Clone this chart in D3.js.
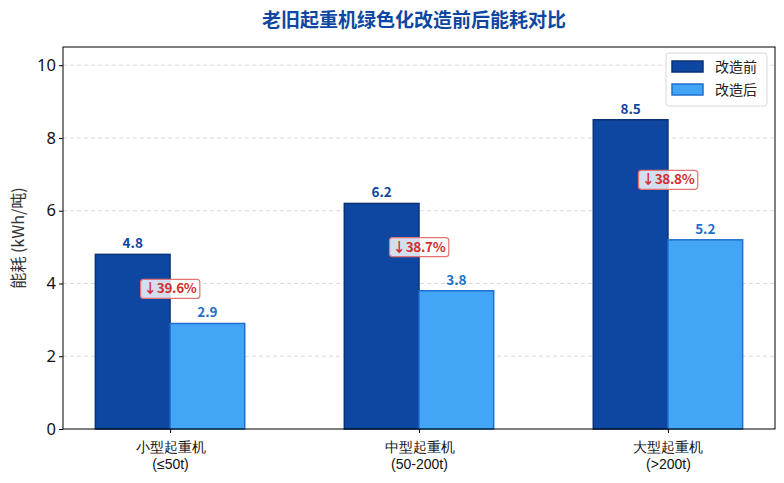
<!DOCTYPE html>
<html><head><meta charset="utf-8">
<script src="https://cdn.jsdelivr.net/npm/d3@7"></script>
<style>body{margin:0;background:#fff;} svg{display:block;font-family:"Noto Sans CJK SC","Noto Sans",sans-serif;}</style>
</head><body>
<svg id="c" width="784" height="483"></svg>
<script>
const categories = ["小型起重机\n(≤50t)", "中型起重机\n(50-200t)", "大型起重机\n(>200t)"];
const before = [4.8, 6.2, 8.5];
const after = [2.9, 3.8, 5.2];
const reductions = ["↓39.6%", "↓38.7%", "↓38.8%"];
const seriesNames = ["改造前", "改造后"];
const yTicks = [0, 2, 4, 6, 8, 10];

const svg = d3.select("#c");
const L = 63, R = 775, T = 47, B = 429;
const x = d3.scaleLinear().domain([-0.43, 2.43]).range([L, R]);
const y = d3.scaleLinear().domain([0, 10.5]).range([B, T]);
const bw = 0.3;
const colors = ["#0d47a1", "#42a5f5"], edges = ["#0a3275", "#1e6fd0"], labCol = ["#0d47a1", "#1e6fc5"];

// grid
svg.append("g").selectAll("line").data(yTicks.filter(d => d > 0)).join("line")
  .attr("x1", L).attr("x2", R).attr("y1", d => y(d)).attr("y2", d => y(d))
  .attr("stroke", "#cfcfcf").attr("stroke-dasharray", "4,3").attr("stroke-width", 0.8);

// bars
[before, after].forEach((vals, s) => {
  const off = s === 0 ? -bw / 2 : bw / 2;
  svg.append("g").selectAll("rect").data(vals).join("rect")
    .attr("x", (d, i) => x(i + off - bw / 2)).attr("width", x(bw) - x(0))
    .attr("y", d => y(d)).attr("height", d => B - y(d))
    .attr("fill", colors[s]).attr("stroke", edges[s]).attr("stroke-width", 1.5);
  svg.append("g").selectAll("text").data(vals).join("text")
    .attr("x", (d, i) => x(i + off)).attr("y", d => y(d) - 6)
    .attr("text-anchor", "middle").attr("font-size", 13.5).attr("font-weight", "bold")
    .attr("fill", labCol[s]).text(d => d.toFixed(1));
});

// reduction labels
const rg = svg.append("g");
reductions.forEach((t, i) => {
  const cy = y((before[i] + after[i]) / 2), cx = x(i);
  const g = rg.append("g");
  const txt = g.append("text").attr("x", cx).attr("y", cy + 4.5).attr("text-anchor", "middle")
    .attr("font-size", 13.5).attr("font-weight", "bold").attr("fill", "#d32f2f").attr("letter-spacing", -0.3).text(t);
  const bb = txt.node().getBBox();
  g.insert("rect", "text").attr("x", bb.x - 3).attr("y", cy - 9.5).attr("width", bb.width + 6).attr("height", 19)
    .attr("rx", 3).attr("fill", "rgba(255,255,255,0.82)").attr("stroke", "#e57373").attr("stroke-width", 1.2);
});

// axes
const ya = svg.append("g").attr("transform", `translate(${L},0)`).call(d3.axisLeft(y).tickValues(yTicks).tickSize(4).tickFormat(d3.format("d")));
ya.selectAll("text").attr("font-size", 16.5).attr("fill", "#111").style("font-family", "'Noto Sans',sans-serif");
ya.select(".domain").remove();
const xa = svg.append("g").attr("transform", `translate(0,${B})`).call(d3.axisBottom(x).tickValues([0, 1, 2]).tickSize(4).tickFormat(""));
xa.select(".domain").remove();
xa.selectAll(".tick").each(function (d) {
  const lines = categories[d].split("\n");
  const t = d3.select(this).append("text").attr("fill", "#111").attr("font-size", 14).attr("text-anchor", "middle");
  lines.forEach((ln, k) => t.append("tspan").attr("x", 0).attr("y", 23 + k * 17).text(ln));
});
svg.append("rect").attr("x", L).attr("y", T).attr("width", R - L).attr("height", B - T)
  .attr("fill", "none").attr("stroke", "#000").attr("stroke-width", 1);

// y label
svg.append("text").attr("transform", `translate(24,${(T + B) / 2}) rotate(-90)`).attr("text-anchor", "middle")
  .attr("font-size", 16).attr("fill", "#333").text("能耗 (kWh/吨)");

// title
svg.append("text").attr("x", (L + R) / 2 - 5).attr("y", 27).attr("text-anchor", "middle")
  .attr("font-size", 19).attr("font-weight", "bold").attr("fill", "#0d47a1").text("老旧起重机绿色化改造前后能耗对比");

// legend
const lg = svg.append("g");
lg.append("rect").attr("x", 666).attr("y", 53).attr("width", 101).attr("height", 53).attr("rx", 3)
  .attr("fill", "rgba(255,255,255,0.85)").attr("stroke", "#d8d8d8");
seriesNames.forEach((n, i) => {
  lg.append("rect").attr("x", 672).attr("y", 61 + i * 23).attr("width", 31).attr("height", 11)
    .attr("fill", colors[i]).attr("stroke", edges[i]).attr("stroke-width", 1.5);
  lg.append("text").attr("x", 715).attr("y", 72 + i * 23).attr("font-size", 14).attr("fill", "#222").text(n);
});
</script>
</body></html>
